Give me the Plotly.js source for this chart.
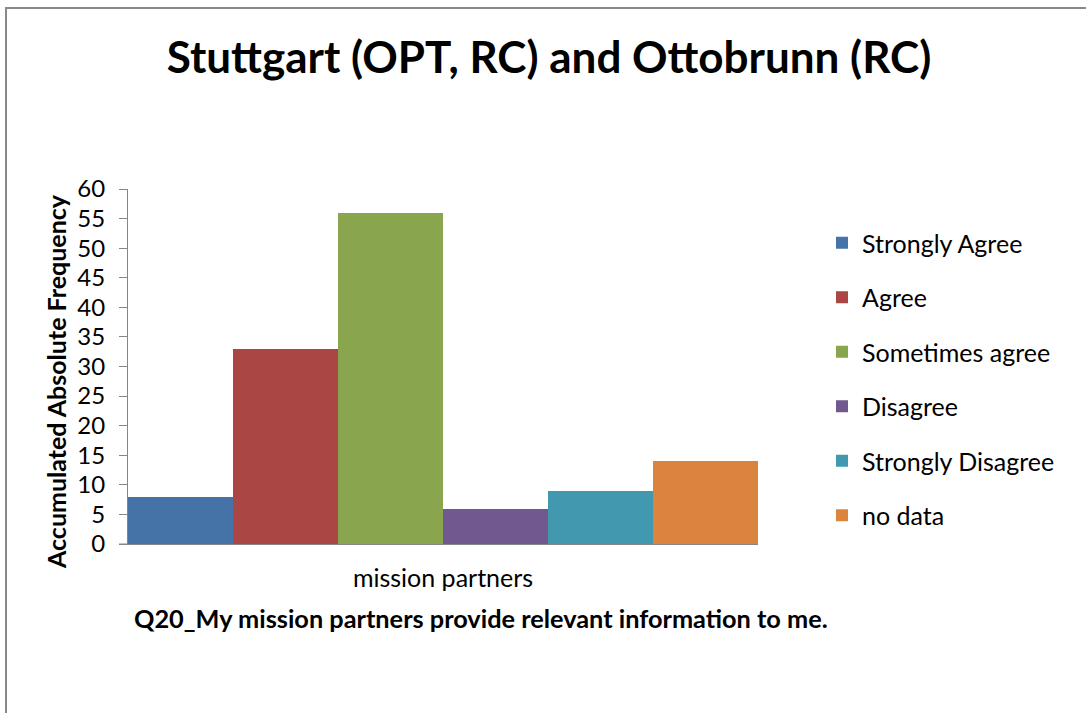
<!DOCTYPE html>
<html>
<head>
<meta charset="utf-8">
<script src="https://cdn.plot.ly/plotly-3.0.1.min.js"></script>
<style>
html,body{margin:0;padding:0;background:#fff;}
#chart{width:1086px;height:713px;}
</style>
</head>
<body>
<div id="chart"></div>
<script>
const categories = ["mission partners"];
const seriesNames = ["Strongly Agree", "Agree", "Sometimes agree", "Disagree", "Strongly Disagree", "no data"];
const seriesValues = [[8], [33], [56], [6], [9], [14]];
const seriesColors = ["#4572A7", "#AA4643", "#89A54E", "#71588F", "#4198AF", "#DB843D"];
const yTickValues = [0, 5, 10, 15, 20, 25, 30, 35, 40, 45, 50, 55, 60];

const FONT = "Lato, 'Open Sans', sans-serif";
const L = 128, R = 328, T = 189, B = 169, W = 1086, H = 713;
const pw = W - L - R, ph = H - T - B;
const px = x => (x - L) / pw;
const py = y => (H - B - y) / ph;

const traces = seriesNames.map((name, i) => ({
  type: "bar",
  name: name,
  x: categories,
  y: seriesValues[i],
  marker: {color: seriesColors[i], line: {width: 0}},
  legendgroup: "g" + i,
  hoverinfo: "name+y"
}));

const layout = {
  width: W, height: H,
  margin: {l: L, r: R, t: T, b: B, pad: 0},
  paper_bgcolor: "#ffffff",
  plot_bgcolor: "#ffffff",
  barmode: "group",
  bargap: 0,
  bargroupgap: 0,
  font: {family: FONT, color: "#000"},
  title: {
    text: "<b>Stuttgart (OPT, RC) and Ottobrunn (RC)</b>",
    font: {family: FONT, size: 44, color: "#000"},
    x: px(549), xanchor: "center", xref: "paper",
    y: 1 - 58 / H, yanchor: "middle", yref: "container"
  },
  xaxis: {
    type: "category",
    showline: true, linecolor: "#868686", linewidth: 1,
    ticks: "", showgrid: false, zeroline: false,
    tickfont: {family: FONT, size: 25, color: "#000"},
    ticklabelstandoff: 12,
    fixedrange: true
  },
  yaxis: {
    range: [0, 60],
    tickvals: yTickValues,
    ticktext: yTickValues.map(String),
    showline: true, linecolor: "#868686", linewidth: 1,
    ticks: "outside", ticklen: 8, tickcolor: "#868686", tickwidth: 1,
    showgrid: false, zeroline: false,
    tickfont: {family: FONT, size: 24, color: "#000"},
    ticklabelstandoff: 9,
    fixedrange: true
  },
  showlegend: true,
  legend: {
    x: px(822), xanchor: "left",
    y: py(220), yanchor: "top",
    font: {family: FONT, size: 25, color: "#000"},
    tracegroupgap: 19,
    itemwidth: 30,
    bgcolor: "rgba(0,0,0,0)",
    borderwidth: 0
  },
  annotations: [
    {
      text: "<b>Accumulated Absolute Frequency</b>",
      textangle: -90,
      xref: "paper", yref: "paper",
      x: px(56), y: py(382),
      xanchor: "center", yanchor: "middle",
      showarrow: false,
      font: {family: FONT, size: 25, color: "#000"}
    },
    {
      text: "<b>Q20_My mission partners provide relevant information to me.</b>",
      xref: "paper", yref: "paper",
      x: px(481), y: py(618),
      xanchor: "center", yanchor: "middle",
      showarrow: false,
      font: {family: FONT, size: 25.3, color: "#000"}
    }
  ],
  shapes: [
    {type: "line", xref: "paper", yref: "paper", x0: px(6), x1: px(6), y0: py(8), y1: py(H + 5), line: {color: "#898989", width: 2}},
    {type: "line", xref: "paper", yref: "paper", x0: px(5), x1: px(W + 5), y0: py(8), y1: py(8), line: {color: "#898989", width: 2}},
    {type: "line", xref: "paper", yref: "paper", x0: px(119), x1: px(128), y0: 0, y1: 0, line: {color: "#868686", width: 1}}
  ]
};

Plotly.newPlot("chart", traces, layout, {displayModeBar: false, staticPlot: true});
</script>
</body>
</html>
